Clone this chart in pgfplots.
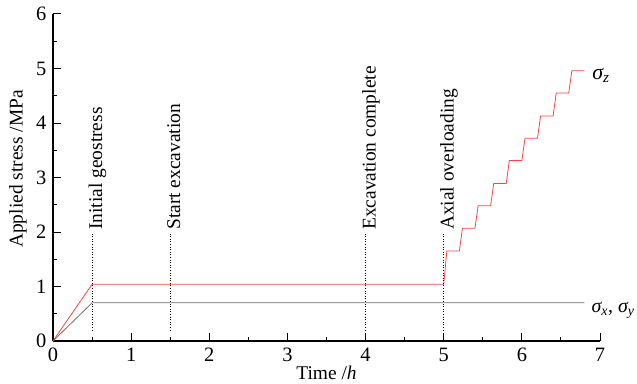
\documentclass[border=0pt]{standalone}
\usepackage{fontspec}
\setmainfont{Liberation Serif}
\usepackage{pgfplots}
\pgfplotsset{compat=1.18}
\usetikzlibrary{calc}
\definecolor{szred}{RGB}{245,70,70}
\definecolor{sxgray}{RGB}{110,110,110}
\begin{document}
\fontsize{19.5}{23}\selectfont
\begin{tikzpicture}
\useasboundingbox (-53bp,-43bp) rectangle (584bp,341bp);
\begin{axis}[
  at={(0,0)}, anchor=south west,
  scale only axis, width=547bp, height=327bp,
  xmin=0, xmax=7, ymin=0, ymax=6,
  axis x line*=bottom, axis y line*=left,
  xtick={0,...,7}, ytick={0,...,6},
  minor tick num=1,
  tick align=inside,
  major tick length=8bp, minor tick length=4bp,
  tick style={black, line width=1pt},
  axis line style={black, line width=1.1pt},
  ticklabel style={font=\fontsize{20.5}{24}\selectfont},
  /pgf/number format/assume math mode=true,
  xlabel={Time /\textit{h}},
  ylabel={Applied stress /MPa},
  xlabel style={at={(axis description cs:0.5,0)}, anchor=north, inner sep=0pt, yshift=-25bp, font=\fontsize{19.5}{23}\selectfont},
  ylabel style={at={(axis description cs:-0.064,0.526)}, anchor=center, rotate=0, inner sep=0pt, font=\fontsize{19.5}{23}\selectfont},
  clip=false,
]
\addplot[szred, line width=0.8pt] coordinates {
(0,0)(0.5,1.04)(5.0,1.04)(5.04,1.65)(5.2,1.65)(5.24,2.07)(5.4,2.07)(5.44,2.48)
(5.6,2.48)(5.64,2.89)(5.8,2.89)(5.84,3.31)(6.0,3.31)(6.04,3.72)(6.2,3.72)
(6.24,4.13)(6.4,4.13)(6.44,4.55)(6.6,4.55)(6.64,4.96)(6.8,4.96)};
\addplot[sxgray, line width=0.8pt] coordinates {(0,0)(0.5,0.70)(6.8,0.70)};
\addplot[black, dotted, line width=0.6pt] coordinates {(0.5,0.2)(0.5,2.0)};
\addplot[black, dotted, line width=0.6pt] coordinates {(1.5,0.2)(1.5,2.0)};
\addplot[black, dotted, line width=0.6pt] coordinates {(4,0.2)(4,2.0)};
\addplot[black, dotted, line width=0.6pt] coordinates {(5,0.2)(5,2.0)};
\node[anchor=base west, rotate=90, inner sep=0pt, inner xsep=2bp] at ($(axis cs:0.5,2.0)+(10bp,0)$) {Initial geostress};
\node[anchor=base west, rotate=90, inner sep=0pt, inner xsep=2bp] at ($(axis cs:1.5,2.0)+(10bp,0)$) {Start excavation};
\node[anchor=base west, rotate=90, inner sep=0pt, inner xsep=2bp] at ($(axis cs:4,2.0)+(10bp,0)$) {Excavation complete};
\node[anchor=base west, rotate=90, inner sep=0pt, inner xsep=2bp] at ($(axis cs:5,2.0)+(10bp,0)$) {Axial overloading};
\node[anchor=base west, inner sep=0pt, font=\fontsize{22}{26}\selectfont] at (axis cs:6.90,4.80) {{\itshape σ}\textsubscript{\itshape z}};
\node[anchor=base west, inner sep=0pt, font=\fontsize{20}{24}\selectfont] at (axis cs:6.89,0.53) {{\itshape σ}\textsubscript{\itshape x}, {\itshape σ}\textsubscript{\itshape y}};
\end{axis}
\end{tikzpicture}
\end{document}
